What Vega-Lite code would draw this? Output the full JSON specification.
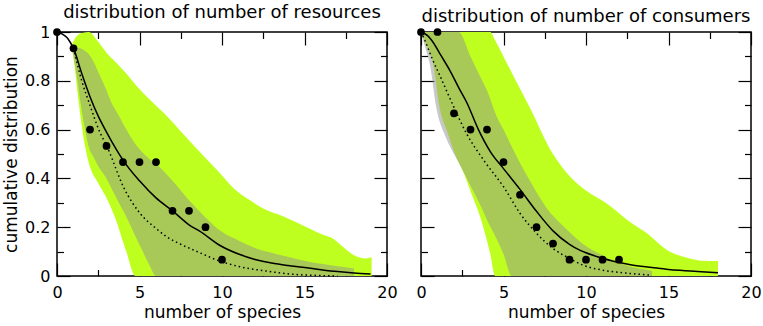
{
  "$schema": "https://vega.github.io/schema/vega-lite/v6.json",
  "padding": {"top": 3, "left": 1, "right": 0, "bottom": 0},
  "spacing": 34,
  "bounds": "flush",
  "config": {
    "view": {"stroke": "black", "strokeWidth": 1.5},
    "font": "DejaVu Sans",
    "axis": {
      "domain": false,
      "grid": false,
      "tickColor": "black",
      "tickWidth": 1.2,
      "labelFont": "DejaVu Sans",
      "labelFontSize": 16,
      "labelColor": "black",
      "labelFlush": false,
      "labelOverlap": false,
      "titleFont": "DejaVu Sans",
      "titleFontSize": 17,
      "titleFontWeight": "normal",
      "titleColor": "black"
    },
    "title": {"font": "DejaVu Sans", "fontSize": 18, "fontWeight": "normal", "color": "black", "anchor": "middle", "offset": 2}
  },
  "datasets": {
    "resGreen": [
      {"x": 0.9, "lo": 0.946, "hi": 0.946},
      {"x": 1.1, "lo": 0.84, "hi": 0.975},
      {"x": 1.3, "lo": 0.72, "hi": 0.99},
      {"x": 1.6, "lo": 0.57, "hi": 0.997},
      {"x": 1.92, "lo": 0.465, "hi": 1.0},
      {"x": 2.5, "lo": 0.38, "hi": 0.96},
      {"x": 3.0, "lo": 0.32, "hi": 0.915},
      {"x": 3.5, "lo": 0.243, "hi": 0.88},
      {"x": 4.2, "lo": 0.1, "hi": 0.83},
      {"x": 4.75, "lo": 0, "hi": 0.785},
      {"x": 5.66, "lo": 0, "hi": 0.72},
      {"x": 6.67, "lo": 0, "hi": 0.655},
      {"x": 7.68, "lo": 0, "hi": 0.58},
      {"x": 8.7, "lo": 0, "hi": 0.505},
      {"x": 9.7, "lo": 0, "hi": 0.434},
      {"x": 10.7, "lo": 0, "hi": 0.36},
      {"x": 11.7, "lo": 0, "hi": 0.31},
      {"x": 12.9, "lo": 0, "hi": 0.264},
      {"x": 13.7, "lo": 0, "hi": 0.245},
      {"x": 14.5, "lo": 0, "hi": 0.22},
      {"x": 15.9, "lo": 0, "hi": 0.175},
      {"x": 16.8, "lo": 0, "hi": 0.15},
      {"x": 17.5, "lo": 0, "hi": 0.11},
      {"x": 18.0, "lo": 0, "hi": 0.085},
      {"x": 18.4, "lo": 0, "hi": 0.075},
      {"x": 18.7, "lo": 0, "hi": 0.072},
      {"x": 19.07, "lo": 0, "hi": 0.077}
    ],
    "resGrey": [
      {"x": 0.9, "lo": 0.93, "hi": 0.93},
      {"x": 1.1, "lo": 0.86, "hi": 0.935},
      {"x": 1.25, "lo": 0.795, "hi": 0.935},
      {"x": 1.45, "lo": 0.7, "hi": 0.932},
      {"x": 1.7, "lo": 0.6, "hi": 0.922},
      {"x": 1.92, "lo": 0.53, "hi": 0.91},
      {"x": 2.2, "lo": 0.49, "hi": 0.88},
      {"x": 2.5, "lo": 0.45, "hi": 0.836},
      {"x": 3.0, "lo": 0.4, "hi": 0.76},
      {"x": 3.3, "lo": 0.36, "hi": 0.71},
      {"x": 3.64, "lo": 0.315, "hi": 0.67},
      {"x": 4.2, "lo": 0.243, "hi": 0.6},
      {"x": 4.7, "lo": 0.17, "hi": 0.545},
      {"x": 5.2, "lo": 0.1, "hi": 0.505},
      {"x": 5.6, "lo": 0.045, "hi": 0.48},
      {"x": 6.0, "lo": 0, "hi": 0.46},
      {"x": 7.0, "lo": 0, "hi": 0.39},
      {"x": 8.0, "lo": 0, "hi": 0.31},
      {"x": 9.0, "lo": 0, "hi": 0.24},
      {"x": 9.9, "lo": 0, "hi": 0.185},
      {"x": 11.0, "lo": 0, "hi": 0.145},
      {"x": 12.0, "lo": 0, "hi": 0.115},
      {"x": 13.0, "lo": 0, "hi": 0.095},
      {"x": 13.9, "lo": 0, "hi": 0.08},
      {"x": 15.0, "lo": 0, "hi": 0.063},
      {"x": 16.0, "lo": 0, "hi": 0.05},
      {"x": 17.0, "lo": 0, "hi": 0.04},
      {"x": 18.0, "lo": 0, "hi": 0.031}
    ],
    "resSolid": [
      {"x": 0, "y": 1}, {"x": 0.3, "y": 0.992}, {"x": 0.6, "y": 0.977}, {"x": 0.8, "y": 0.958},
      {"x": 1, "y": 0.933}, {"x": 1.5, "y": 0.83}, {"x": 2, "y": 0.735}, {"x": 2.5, "y": 0.655},
      {"x": 3, "y": 0.59}, {"x": 3.62, "y": 0.516}, {"x": 4, "y": 0.475}, {"x": 5, "y": 0.39},
      {"x": 6, "y": 0.32}, {"x": 7, "y": 0.267}, {"x": 8, "y": 0.21}, {"x": 8.67, "y": 0.183},
      {"x": 9.88, "y": 0.125}, {"x": 11, "y": 0.09}, {"x": 12, "y": 0.068}, {"x": 13, "y": 0.053},
      {"x": 14, "y": 0.043}, {"x": 14.9, "y": 0.036}, {"x": 16, "y": 0.026}, {"x": 17, "y": 0.018},
      {"x": 18, "y": 0.012}, {"x": 19, "y": 0.008}
    ],
    "resDotted": [
      {"x": 1, "y": 0.933}, {"x": 1.5, "y": 0.8}, {"x": 2, "y": 0.7}, {"x": 2.5, "y": 0.605},
      {"x": 3.1, "y": 0.52}, {"x": 4.02, "y": 0.366}, {"x": 5.03, "y": 0.257}, {"x": 6, "y": 0.195},
      {"x": 6.65, "y": 0.161}, {"x": 7.5, "y": 0.13}, {"x": 8.26, "y": 0.107}, {"x": 9, "y": 0.085},
      {"x": 9.78, "y": 0.063}, {"x": 10.5, "y": 0.048}, {"x": 11.5, "y": 0.032}, {"x": 12.3, "y": 0.024},
      {"x": 13.5, "y": 0.013}, {"x": 14.5, "y": 0.006}, {"x": 15.5, "y": 0.003}, {"x": 17, "y": 0.0}
    ],
    "resPoints": [
      {"x": 0, "y": 1}, {"x": 1, "y": 0.933}, {"x": 2, "y": 0.6}, {"x": 3, "y": 0.533},
      {"x": 4, "y": 0.467}, {"x": 5, "y": 0.467}, {"x": 6, "y": 0.467}, {"x": 7, "y": 0.267},
      {"x": 8, "y": 0.267}, {"x": 9, "y": 0.2}, {"x": 10, "y": 0.067}
    ],
    "conGreen": [
      {"x": 0, "lo": 1, "hi": 1},
      {"x": 0.3, "lo": 0.95, "hi": 1},
      {"x": 0.76, "lo": 0.86, "hi": 1},
      {"x": 1.13, "lo": 0.69, "hi": 1},
      {"x": 1.6, "lo": 0.59, "hi": 1},
      {"x": 2.0, "lo": 0.51, "hi": 1},
      {"x": 2.6, "lo": 0.42, "hi": 1},
      {"x": 3.1, "lo": 0.33, "hi": 1},
      {"x": 3.6, "lo": 0.24, "hi": 1},
      {"x": 4.2, "lo": 0.09, "hi": 1},
      {"x": 4.5, "lo": 0, "hi": 0.965},
      {"x": 5.0, "lo": 0, "hi": 0.9},
      {"x": 5.6, "lo": 0, "hi": 0.82},
      {"x": 6.6, "lo": 0, "hi": 0.69},
      {"x": 8.0, "lo": 0, "hi": 0.5},
      {"x": 9.0, "lo": 0, "hi": 0.41},
      {"x": 10.0, "lo": 0, "hi": 0.35},
      {"x": 11.3, "lo": 0, "hi": 0.295},
      {"x": 12.5, "lo": 0, "hi": 0.23},
      {"x": 13.7, "lo": 0, "hi": 0.175},
      {"x": 14.9, "lo": 0, "hi": 0.107},
      {"x": 16.3, "lo": 0, "hi": 0.072},
      {"x": 17.0, "lo": 0, "hi": 0.063},
      {"x": 18.0, "lo": 0, "hi": 0.061}
    ],
    "conGrey": [
      {"x": 0, "lo": 1, "hi": 1},
      {"x": 0.2, "lo": 0.95, "hi": 1},
      {"x": 0.56, "lo": 0.86, "hi": 1},
      {"x": 0.93, "lo": 0.69, "hi": 1},
      {"x": 1.5, "lo": 0.57, "hi": 1},
      {"x": 2.0, "lo": 0.5, "hi": 1},
      {"x": 2.28, "lo": 0.465, "hi": 1},
      {"x": 3.0, "lo": 0.37, "hi": 0.9},
      {"x": 3.6, "lo": 0.29, "hi": 0.816},
      {"x": 4.0, "lo": 0.23, "hi": 0.76},
      {"x": 4.6, "lo": 0.15, "hi": 0.652},
      {"x": 5.0, "lo": 0.09, "hi": 0.6},
      {"x": 5.5, "lo": 0, "hi": 0.53},
      {"x": 6.6, "lo": 0, "hi": 0.39},
      {"x": 7.6, "lo": 0, "hi": 0.28},
      {"x": 8.85, "lo": 0, "hi": 0.19},
      {"x": 10.06, "lo": 0, "hi": 0.12},
      {"x": 11.0, "lo": 0, "hi": 0.085},
      {"x": 11.7, "lo": 0, "hi": 0.06},
      {"x": 12.9, "lo": 0, "hi": 0.035},
      {"x": 13.7, "lo": 0, "hi": 0.025},
      {"x": 14.0, "lo": 0, "hi": 0.022}
    ],
    "conSolid": [
      {"x": 0, "y": 1}, {"x": 0.4, "y": 0.985}, {"x": 0.76, "y": 0.955}, {"x": 1.2, "y": 0.905},
      {"x": 1.77, "y": 0.84}, {"x": 2.3, "y": 0.77}, {"x": 2.78, "y": 0.71}, {"x": 3.48, "y": 0.6},
      {"x": 4.2, "y": 0.51}, {"x": 5, "y": 0.44}, {"x": 6, "y": 0.355}, {"x": 7, "y": 0.265},
      {"x": 8, "y": 0.185}, {"x": 9, "y": 0.13}, {"x": 9.65, "y": 0.105}, {"x": 10, "y": 0.095},
      {"x": 11, "y": 0.073}, {"x": 12, "y": 0.055}, {"x": 12.7, "y": 0.046}, {"x": 14, "y": 0.035},
      {"x": 15, "y": 0.027}, {"x": 16, "y": 0.022}, {"x": 17, "y": 0.017}, {"x": 18, "y": 0.013}
    ],
    "conDotted": [
      {"x": 0, "y": 1}, {"x": 0.3, "y": 0.955}, {"x": 0.67, "y": 0.892}, {"x": 1.17, "y": 0.817},
      {"x": 1.98, "y": 0.694}, {"x": 2.75, "y": 0.585}, {"x": 3.85, "y": 0.47}, {"x": 5, "y": 0.366},
      {"x": 6, "y": 0.257}, {"x": 7, "y": 0.175}, {"x": 8, "y": 0.113}, {"x": 9, "y": 0.072},
      {"x": 9.8, "y": 0.045}, {"x": 11, "y": 0.024}, {"x": 12.3, "y": 0.013}, {"x": 13.6, "y": 0.005},
      {"x": 14, "y": 0.003}
    ],
    "conPoints": [
      {"x": 0, "y": 1}, {"x": 1, "y": 1}, {"x": 2, "y": 0.667}, {"x": 3, "y": 0.6},
      {"x": 4, "y": 0.6}, {"x": 5, "y": 0.467}, {"x": 6, "y": 0.333}, {"x": 7, "y": 0.2},
      {"x": 8, "y": 0.133}, {"x": 9, "y": 0.067}, {"x": 10, "y": 0.067}, {"x": 11, "y": 0.067},
      {"x": 12, "y": 0.067}
    ]
  },
  "hconcat": [
    {
      "width": 330,
      "height": 244,
      "title": "distribution of number of resources",
      "resolve": {"axis": {"x": "independent", "y": "independent"}},
      "layer": [
        {
          "data": {"name": "resGreen"},
          "mark": {"type": "area", "color": "#bfff1f", "interpolate": "monotone", "clip": true},
          "encoding": {
            "x": {"field": "x", "type": "quantitative", "scale": {"domain": [0, 20], "nice": false},
              "axis": {"orient": "bottom", "values": [0, 2.5, 5, 7.5, 10, 12.5, 15, 17.5, 20],
                "tickSize": {"condition": {"test": "datum.value % 5 === 0", "value": -13}, "value": -6.5},
                "labelExpr": "datum.value % 5 === 0 ? format(datum.value, 'd') : ''",
                "labelPadding": 21, "title": "number of species", "titlePadding": -2}},
            "y": {"field": "hi", "type": "quantitative", "scale": {"domain": [0, 1], "nice": false},
              "axis": {"orient": "left", "values": [0, 0.1, 0.2, 0.3, 0.4, 0.5, 0.6, 0.7, 0.8, 0.9, 1],
                "tickSize": {"condition": {"test": "abs(datum.value * 5 - round(datum.value * 5)) < 0.001", "value": -13}, "value": -6.5},
                "labelExpr": "abs(datum.value * 5 - round(datum.value * 5)) < 0.001 ? format(datum.value, '~g') : ''",
                "labelPadding": 20, "title": "cumulative distribution", "titlePadding": 4}},
            "y2": {"field": "lo"}
          }
        },
        {
          "data": {"name": "resGrey"},
          "mark": {"type": "area", "color": "#919191", "opacity": 0.5, "interpolate": "monotone", "clip": true},
          "encoding": {
            "x": {"field": "x", "type": "quantitative",
              "axis": {"orient": "top", "values": [0, 2.5, 5, 7.5, 10, 12.5, 15, 17.5, 20],
                "tickSize": {"condition": {"test": "datum.value % 5 === 0", "value": -13}, "value": -6.5},
                "labels": false, "title": null}},
            "y": {"field": "hi", "type": "quantitative",
              "axis": {"orient": "right", "values": [0, 0.1, 0.2, 0.3, 0.4, 0.5, 0.6, 0.7, 0.8, 0.9, 1],
                "tickSize": {"condition": {"test": "abs(datum.value * 5 - round(datum.value * 5)) < 0.001", "value": -13}, "value": -6.5},
                "labels": false, "title": null}},
            "y2": {"field": "lo"}
          }
        },
        {
          "data": {"name": "resSolid"},
          "mark": {"type": "line", "color": "black", "strokeWidth": 1.5, "interpolate": "monotone"},
          "encoding": {
            "x": {"field": "x", "type": "quantitative", "axis": null},
            "y": {"field": "y", "type": "quantitative", "axis": null}
          }
        },
        {
          "data": {"name": "resDotted"},
          "mark": {"type": "line", "color": "black", "strokeWidth": 1.5, "strokeDash": [1.5, 3], "interpolate": "monotone"},
          "encoding": {
            "x": {"field": "x", "type": "quantitative", "axis": null},
            "y": {"field": "y", "type": "quantitative", "axis": null}
          }
        },
        {
          "data": {"name": "resPoints"},
          "mark": {"type": "circle", "color": "black", "opacity": 1, "size": 60},
          "encoding": {
            "x": {"field": "x", "type": "quantitative", "axis": null},
            "y": {"field": "y", "type": "quantitative", "axis": null}
          }
        }
      ]
    },
    {
      "width": 330,
      "height": 244,
      "title": "distribution of number of consumers",
      "resolve": {"axis": {"x": "independent", "y": "independent"}},
      "layer": [
        {
          "data": {"name": "conGreen"},
          "mark": {"type": "area", "color": "#bfff1f", "interpolate": "monotone", "clip": true},
          "encoding": {
            "x": {"field": "x", "type": "quantitative", "scale": {"domain": [0, 20], "nice": false},
              "axis": {"orient": "bottom", "values": [0, 2.5, 5, 7.5, 10, 12.5, 15, 17.5, 20],
                "tickSize": {"condition": {"test": "datum.value % 5 === 0", "value": -13}, "value": -6.5},
                "labelExpr": "datum.value % 5 === 0 ? format(datum.value, 'd') : ''",
                "labelPadding": 21, "title": "number of species", "titlePadding": -2}},
            "y": {"field": "hi", "type": "quantitative", "scale": {"domain": [0, 1], "nice": false},
              "axis": {"orient": "left", "values": [0, 0.1, 0.2, 0.3, 0.4, 0.5, 0.6, 0.7, 0.8, 0.9, 1],
                "tickSize": {"condition": {"test": "abs(datum.value * 5 - round(datum.value * 5)) < 0.001", "value": -13}, "value": -6.5},
                "labels": false, "title": null}},
            "y2": {"field": "lo"}
          }
        },
        {
          "data": {"name": "conGrey"},
          "mark": {"type": "area", "color": "#919191", "opacity": 0.5, "interpolate": "monotone", "clip": true},
          "encoding": {
            "x": {"field": "x", "type": "quantitative",
              "axis": {"orient": "top", "values": [0, 2.5, 5, 7.5, 10, 12.5, 15, 17.5, 20],
                "tickSize": {"condition": {"test": "datum.value % 5 === 0", "value": -13}, "value": -6.5},
                "labels": false, "title": null}},
            "y": {"field": "hi", "type": "quantitative",
              "axis": {"orient": "right", "values": [0, 0.1, 0.2, 0.3, 0.4, 0.5, 0.6, 0.7, 0.8, 0.9, 1],
                "tickSize": {"condition": {"test": "abs(datum.value * 5 - round(datum.value * 5)) < 0.001", "value": -13}, "value": -6.5},
                "labels": false, "title": null}},
            "y2": {"field": "lo"}
          }
        },
        {
          "data": {"name": "conSolid"},
          "mark": {"type": "line", "color": "black", "strokeWidth": 1.5, "interpolate": "monotone"},
          "encoding": {
            "x": {"field": "x", "type": "quantitative", "axis": null},
            "y": {"field": "y", "type": "quantitative", "axis": null}
          }
        },
        {
          "data": {"name": "conDotted"},
          "mark": {"type": "line", "color": "black", "strokeWidth": 1.5, "strokeDash": [1.5, 3], "interpolate": "monotone"},
          "encoding": {
            "x": {"field": "x", "type": "quantitative", "axis": null},
            "y": {"field": "y", "type": "quantitative", "axis": null}
          }
        },
        {
          "data": {"name": "conPoints"},
          "mark": {"type": "circle", "color": "black", "opacity": 1, "size": 60},
          "encoding": {
            "x": {"field": "x", "type": "quantitative", "axis": null},
            "y": {"field": "y", "type": "quantitative", "axis": null}
          }
        }
      ]
    }
  ]
}
